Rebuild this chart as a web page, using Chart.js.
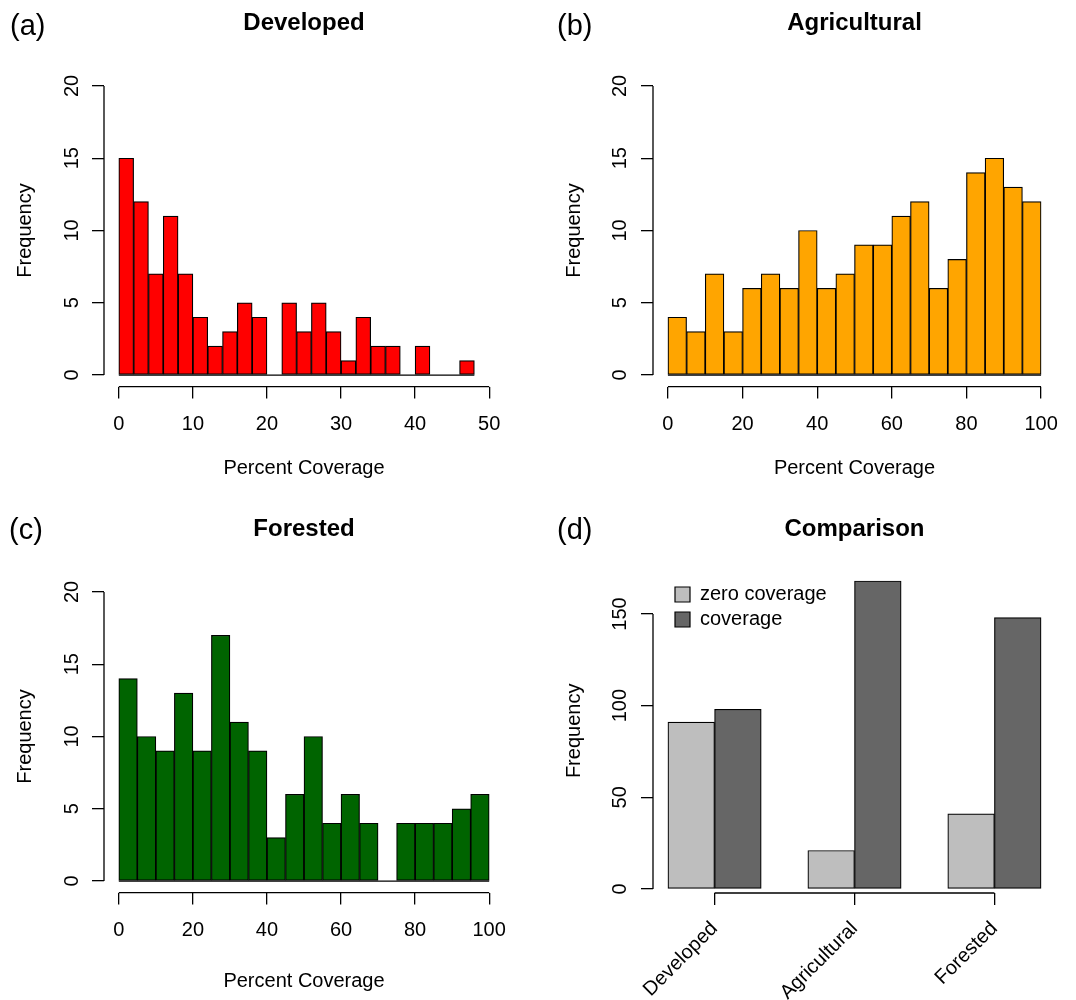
<!DOCTYPE html>
<html>
<head>
<meta charset="utf-8">
<title>Percent coverage by land use</title>
<script src="https://cdn.jsdelivr.net/npm/chart.js@4.4.1/dist/chart.umd.min.js"></script>
<style>
  body { margin: 0; background: #fff; }
  #wrap { position: relative; width: 1076px; height: 1000px; font-family: 'Liberation Sans', Arial, sans-serif; }
  canvas { position: absolute; }
  .tag { position: absolute; font-size: 29px; line-height: 1; color: #000; }
</style>
</head>
<body>
<div id="wrap">
  <canvas id="devChart" width="538" height="495" style="left:0;top:0"></canvas>
  <canvas id="agrChart" width="538" height="495" style="left:538px;top:0"></canvas>
  <canvas id="forChart" width="538" height="505" style="left:0;top:495px"></canvas>
  <canvas id="cmpChart" width="538" height="505" style="left:538px;top:495px"></canvas>
  <div class="tag" style="left:10px;top:11px">(a)</div>
  <div class="tag" style="left:557px;top:11px">(b)</div>
  <div class="tag" style="left:9px;top:515px">(c)</div>
  <div class="tag" style="left:557px;top:515px">(d)</div>
</div>
<script>
// bin edges and counts
var devBreaks = [0, 2, 4, 6, 8, 10, 12, 14, 16, 18, 20, 22, 24, 26, 28, 30, 32, 34, 36, 38, 40, 42, 44, 46, 48];
var devCounts = [15, 12, 7, 11, 7, 4, 2, 3, 5, 4, 0, 5, 3, 5, 3, 1, 4, 2, 2, 0, 2, 0, 0, 1];
var pctBreaks = [0, 5, 10, 15, 20, 25, 30, 35, 40, 45, 50, 55, 60, 65, 70, 75, 80, 85, 90, 95, 100];
var agrCounts = [4, 3, 7, 3, 6, 7, 6, 10, 6, 7, 9, 9, 11, 12, 6, 8, 14, 15, 13, 12];
var forCounts = [14, 10, 9, 13, 9, 17, 11, 9, 3, 6, 10, 4, 6, 4, 0, 4, 4, 4, 5, 6];

// tick labels
var freqTicks = [0, 5, 10, 15, 20];
var devTicks = [0, 10, 20, 30, 40, 50];
var pctTicks = [0, 20, 40, 60, 80, 100];
var cmpTicks = [0, 50, 100, 150];

// comparison
var landUse = ['Developed', 'Agricultural', 'Forested'];
var zeroCoverage = [91, 21, 41];
var coverage = [98, 168, 148];

Chart.defaults.font.family = "'Liberation Sans', Arial, sans-serif";
Chart.defaults.color = '#000';

// R style axis lines: only from first to last tick
var rAxisLines = {
  id: 'rAxisLines',
  afterDraw: function(chart, args, o) {
    var ctx = chart.ctx, area = chart.chartArea, x = chart.scales.x, y = chart.scales.y;
    var xt = x.ticks, yt = y.ticks;
    ctx.save();
    ctx.strokeStyle = '#000';
    ctx.lineWidth = 1.3;
    ctx.beginPath();
    ctx.moveTo(o.xFromEdge ? area.left : x.getPixelForValue(xt[0].value), area.bottom);
    ctx.lineTo(x.getPixelForValue(xt[xt.length - 1].value), area.bottom);
    ctx.moveTo(area.left, y.getPixelForValue(yt[0].value));
    ctx.lineTo(area.left, y.getPixelForValue(yt[yt.length - 1].value));
    ctx.stroke();
    ctx.restore();
  }
};

// put the legend inset from the top left corner of the plot, like legend("topleft", inset=...)
var legendNudge = {
  id: 'legendNudge',
  afterLayout: function(chart, args, o) {
    var lg = chart.legend;
    if (lg && o.dx !== undefined) {
      var h = lg.bottom - lg.top;
      lg.left = chart.chartArea.left + o.dx;
      lg.top = chart.chartArea.top + o.dy;
      lg.bottom = lg.top + h;
    }
  }
};

function fixedTicks(list) {
  return function(s) { s.ticks = list.map(function(v) { return { value: v }; }); };
}

function yAxis(ticks, box) {
  var lo = ticks[0], hi = ticks[ticks.length - 1];
  return {
    min: box.yMin !== undefined ? box.yMin : lo - (hi - lo) * 0.04,
    max: box.yMax !== undefined ? box.yMax : hi + (hi - lo) * 0.04,
    afterBuildTicks: fixedTicks(ticks),
    afterFit: function(s) { s.width = box.yWidth; },
    border: { display: false },
    grid: { drawOnChartArea: false, tickLength: 12, color: '#000', lineWidth: 1.3 },
    ticks: { font: { size: 20 }, padding: box.yPad, minRotation: 90, maxRotation: 90, crossAlign: 'center', autoSkip: false },
    title: { display: true, text: 'Frequency', font: { size: 20 }, padding: { top: box.yTitle, bottom: 0 } }
  };
}

function printHist(id, title, breaks, counts, xTicks, color, box) {
  var lo = xTicks[0], hi = xTicks[xTicks.length - 1], pad = (hi - lo) * 0.04;
  var bins = counts.map(function(c, i) { return { x: (breaks[i] + breaks[i + 1]) / 2, y: c }; });
  new Chart(document.getElementById(id), {
    type: 'bar',
    data: {
      datasets: [{
        data: bins,
        backgroundColor: color,
        borderColor: '#000',
        borderWidth: 1.2,
        borderSkipped: false,
        grouped: false,
        barPercentage: 1,
        categoryPercentage: 1,
        order: 1
      }, {
        type: 'line',
        data: [{ x: breaks[0], y: 0 }, { x: breaks[breaks.length - 1], y: 0 }],
        borderColor: '#000',
        borderWidth: 1.3,
        pointRadius: 0,
        order: 0
      }]
    },
    options: {
      responsive: false,
      animation: false,
      events: [],
      layout: { padding: { left: 0, right: box.right, top: 0, bottom: 0 } },
      plugins: {
        legend: { display: false },
        tooltip: { enabled: false },
        title: { display: true, text: title, fullSize: false, font: { size: 24, weight: 'bold' },
                 padding: { top: box.titleTop, bottom: box.titleBottom } }
      },
      scales: {
        x: {
          type: 'linear', offset: false, min: lo - pad, max: hi + pad,
          afterBuildTicks: fixedTicks(xTicks),
          afterFit: function(s) { s.height = box.xHeight; },
          border: { display: false },
          grid: { drawOnChartArea: false, offset: false, tickLength: 12, color: '#000', lineWidth: 1.3 },
          ticks: { font: { size: 20 }, padding: 14, maxRotation: 0, autoSkip: false },
          title: { display: true, text: 'Percent Coverage', font: { size: 20 }, padding: { top: 0, bottom: box.xTitle } }
        },
        y: yAxis(freqTicks, box)
      }
    },
    plugins: [rAxisLines]
  });
}

function printComparison(box) {
  var mids = landUse.map(function(n, i) { return 2 + 3 * i; });
  var bar = { borderColor: '#000', borderWidth: 1.2, borderSkipped: false, grouped: false, barPercentage: 1, categoryPercentage: 1 };
  new Chart(document.getElementById('cmpChart'), {
    type: 'bar',
    data: {
      datasets: [
        Object.assign({ label: 'zero coverage', backgroundColor: '#BEBEBE',
          data: zeroCoverage.map(function(v, i) { return { x: mids[i] - 0.5, y: v }; }) }, bar),
        Object.assign({ label: 'coverage', backgroundColor: '#666666',
          data: coverage.map(function(v, i) { return { x: mids[i] + 0.5, y: v }; }) }, bar)
      ]
    },
    options: {
      responsive: false,
      animation: false,
      events: [],
      layout: { padding: { left: 0, right: box.right, top: 0, bottom: 0 } },
      plugins: {
        legend: { position: 'chartArea', align: 'start',
                  labels: { boxWidth: 15, boxHeight: 15, padding: 5, font: { size: 20 }, color: '#000' } },
        legendNudge: { dx: 17, dy: 10.8 },
        tooltip: { enabled: false },
        title: { display: true, text: 'Comparison', fullSize: false, font: { size: 24, weight: 'bold' },
                 padding: { top: box.titleTop, bottom: box.titleBottom } }
      },
      scales: {
        x: {
          type: 'linear', offset: false, min: 0.68, max: 9.32,
          afterBuildTicks: fixedTicks(mids),
          afterFit: function(s) { s.height = box.xHeight; },
          border: { display: false },
          grid: { drawOnChartArea: false, offset: false, tickLength: 12, color: '#000', lineWidth: 1.3 },
          ticks: { font: { size: 20 }, padding: 12, minRotation: 45, maxRotation: 45, autoSkip: false,
                   callback: function(v, i) { return landUse[i]; } }
        },
        y: yAxis(cmpTicks, box)
      }
    },
    plugins: [rAxisLines, legendNudge]
  });
}

function init() {
  printHist('devChart', 'Developed', devBreaks, devCounts, devTicks, '#FF0000',
    { right: 34, titleTop: 9.1, titleBottom: 36.5, xHeight: 108.4, yWidth: 104, yPad: 8.4, xTitle: 15, yTitle: 13.7 });
  printHist('agrChart', 'Agricultural', pctBreaks, agrCounts, pctTicks, '#FFA500',
    { right: 20, titleTop: 9.1, titleBottom: 36.5, xHeight: 108.4, yWidth: 115, yPad: 9.4, xTitle: 15, yTitle: 24.7 });
  printHist('forChart', 'Forested', pctBreaks, forCounts, pctTicks, '#006400',
    { right: 34, titleTop: 19.6, titleBottom: 37, xHeight: 107.4, yWidth: 104, yPad: 8.4, xTitle: 6.3, yTitle: 13.7 });
  printComparison(
    { right: 20, titleTop: 19.6, titleBottom: 25.3, xHeight: 107, yWidth: 115, yPad: 3.8, yTitle: 24.7, yMin: -2.18, yMax: 174.7 });
}

init();
</script>
</body>
</html>
